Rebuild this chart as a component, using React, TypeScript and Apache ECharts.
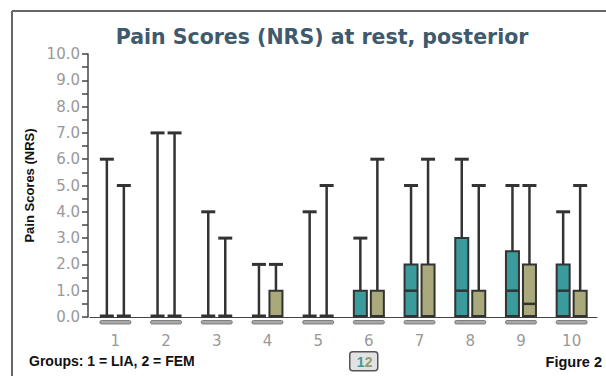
import React, { useEffect, useRef } from "react";
import * as echarts from "echarts";

const categories = ["1", "2", "3", "4", "5", "6", "7", "8", "9", "10"];
// [min, Q1, median, Q3, max]
const liaBoxes = [
  [0, 0, 0, 0, 6],
  [0, 0, 0, 0, 7],
  [0, 0, 0, 0, 4],
  [0, 0, 0, 0, 2],
  [0, 0, 0, 0, 4],
  [0, 0, 0, 1, 3],
  [0, 0, 1, 2, 5],
  [0, 0, 1, 3, 6],
  [0, 0, 1, 2.5, 5],
  [0, 0, 1, 2, 4],
];
const femBoxes = [
  [0, 0, 0, 0, 5],
  [0, 0, 0, 0, 7],
  [0, 0, 0, 0, 3],
  [0, 0, 0, 1, 2],
  [0, 0, 0, 0, 5],
  [0, 0, 0, 1, 6],
  [0, 0, 0, 2, 6],
  [0, 0, 0, 1, 5],
  [0, 0, 0.5, 2, 5],
  [0, 0, 0, 1, 5],
];
const groupNames = ["LIA", "FEM"];

const TEAL = "#3a9b9c";
const OLIVE = "#aaa97b";
const DARK = "#333333";

function makeRender(offset: number, fill: string) {
  return (params: any, api: any) => {
    const c = api.value(0);
    const vals = [1, 2, 3, 4, 5].map((i) => api.value(i) as number);
    const x = api.coord([c, 0])[0] + offset;
    const ys = vals.map((v) => api.coord([c, v])[1]);
    const [yMin, yQ1, yMed, yQ3, yMax] = ys;
    const hb = 6.5;
    const hc = 7;
    const children: any[] = [
      { type: "line", shape: { x1: x, y1: yMax, x2: x, y2: yMin }, style: { stroke: DARK, lineWidth: 2.5 } },
      { type: "line", shape: { x1: x - hc, y1: yMax, x2: x + hc, y2: yMax }, style: { stroke: DARK, lineWidth: 3 } },
      { type: "line", shape: { x1: x - hc, y1: yMin - 1, x2: x + hc, y2: yMin - 1 }, style: { stroke: DARK, lineWidth: 3 } },
    ];
    if (vals[3] > vals[1]) {
      children.push({
        type: "rect",
        shape: { x: x - hb, y: yQ3, width: 2 * hb, height: yQ1 - yQ3 - 1 },
        style: { fill, stroke: DARK, lineWidth: 2 },
      });
      if (vals[2] > vals[1] && vals[2] < vals[3]) {
        children.push({
          type: "line",
          shape: { x1: x - hb, y1: yMed, x2: x + hb, y2: yMed },
          style: { stroke: DARK, lineWidth: 2.5 },
        });
      }
    }
    return { type: "group", children };
  };
}

function renderBase(params: any, api: any) {
  const c = api.value(0);
  const p = api.coord([c, 0]);
  return {
    type: "rect",
    shape: { x: p[0] - 15.5, y: p[1] + 3.5, width: 31, height: 3.5, r: 1.5 },
    style: { fill: "#a8a8a8", stroke: "#6a6a6a", lineWidth: 0.8 },
  };
}

export default function App() {
  const ref = useRef<HTMLDivElement>(null);
  useEffect(() => {
    if (!ref.current) return;
    const chart = echarts.init(ref.current, undefined, { renderer: "svg" });
    const liaData = liaBoxes.map((b, i) => [i, ...b]);
    const femData = femBoxes.map((b, i) => [i, ...b]);
    const baseData = categories.map((_, i) => [i, 0]);
    chart.setOption({
      animation: false,
      backgroundColor: "#ffffff",
      title: {
        text: "Pain Scores (NRS) at rest, posterior",
        left: 317,
        top: 21,
        textAlign: "center",
        textStyle: { fontFamily: "DejaVu Sans", fontWeight: "bold", fontSize: 20.5, color: "#3f5a6c" },
      },
      grid: { left: 90, top: 54, width: 507, height: 263 },
      xAxis: {
        type: "category",
        data: categories,
        offset: 5,
        axisLine: { lineStyle: { color: "#444", width: 1 } },
        axisTick: { show: false },
        axisLabel: { color: "#999", fontSize: 15, fontFamily: "DejaVu Sans", margin: 11 },
        splitLine: { show: false },
      },
      yAxis: {
        type: "value",
        min: 0,
        max: 10,
        interval: 1,
        offset: 2,
        name: "Pain Scores (NRS)",
        nameLocation: "middle",
        nameGap: 49,
        nameTextStyle: { fontFamily: "Liberation Sans", fontWeight: "bold", fontSize: 13, color: "#111" },
        axisLine: { show: true, lineStyle: { color: "#444", width: 1.5 } },
        axisTick: { show: true, length: 6, lineStyle: { color: "#444", width: 1.5 } },
        minorTick: { show: true, splitNumber: 2, length: 6, lineStyle: { color: "#444", width: 1.5 } },
        axisLabel: {
          color: "#999",
          fontSize: 15,
          fontFamily: "DejaVu Sans",
          margin: 8,
          formatter: (v: number) => v.toFixed(1),
        },
        splitLine: { show: false },
      },
      series: [
        { type: "custom", name: "base", data: baseData, renderItem: renderBase, encode: { x: 0, y: 1 }, z: 1, silent: true },
        { type: "custom", name: groupNames[0], data: liaData, renderItem: makeRender(-8.5, TEAL), encode: { x: 0, y: [1, 2, 3, 4, 5] }, z: 3 },
        { type: "custom", name: groupNames[1], data: femData, renderItem: makeRender(8.5, OLIVE), encode: { x: 0, y: [1, 2, 3, 4, 5] }, z: 3 },
      ],
      graphic: [
        { type: "line", shape: { x1: 12, y1: 11, x2: 606, y2: 11 }, style: { stroke: "#666", lineWidth: 2 } },
        { type: "line", shape: { x1: 12, y1: 11, x2: 12, y2: 376 }, style: { stroke: "#666", lineWidth: 2 } },
        {
          type: "text",
          left: 29,
          top: 354,
          style: { text: "Groups: 1 = LIA, 2 = FEM", fontFamily: "Liberation Sans", fontWeight: "bold", fontSize: 14, fill: "#111" },
        },
        {
          type: "text",
          right: 4,
          top: 354,
          style: { text: "Figure 2", fontFamily: "Liberation Sans", fontWeight: "bold", fontSize: 14.5, fill: "#111" },
        },
        {
          type: "group",
          left: 349,
          top: 351,
          children: [
            { type: "rect", shape: { x: 0, y: 0, width: 28, height: 19, r: 3 }, style: { fill: "#e2e2e2", stroke: "#555", lineWidth: 1.5 } },
            { type: "text", x: 7, y: 3, style: { text: "1", fontFamily: "Liberation Sans", fontWeight: "bold", fontSize: 14, fill: TEAL } },
            { type: "text", x: 15, y: 3, style: { text: "2", fontFamily: "Liberation Sans", fontWeight: "bold", fontSize: 14, fill: "#9a996a" } },
          ],
        },
      ],
    });
    return () => chart.dispose();
  }, []);
  return <div ref={ref} style={{ position: "fixed", left: 0, top: 0, width: 606, height: 376 }} />;
}
